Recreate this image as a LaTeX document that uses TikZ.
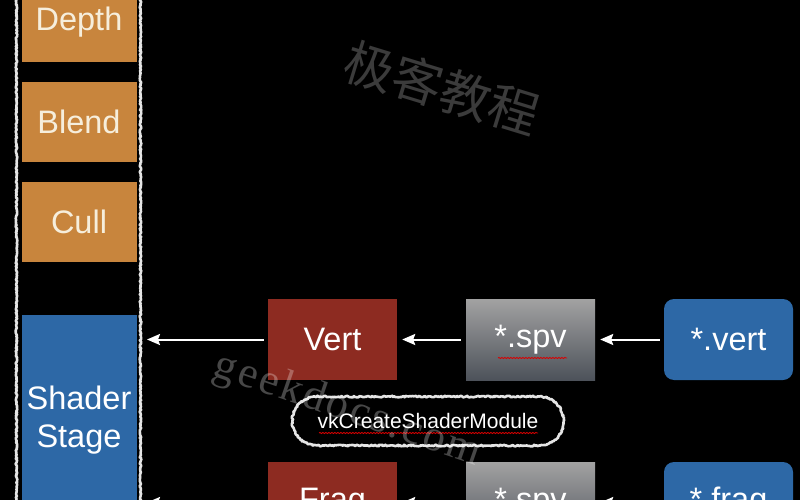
\documentclass[tikz,border=0pt]{standalone}
\usepackage{fontspec}
\setmainfont{Liberation Sans}
\newfontfamily\cjkfont{Noto Sans CJK SC}
\newfontfamily\wmserif[LetterSpace=6]{Liberation Serif}
\usetikzlibrary{arrows.meta,decorations.pathmorphing,shadings,shapes.misc}
\definecolor{orng}{HTML}{C8853D}
\definecolor{blu}{HTML}{2D68A6}
\definecolor{rd}{HTML}{8D2B21}
\definecolor{gtop}{HTML}{A2A2A2}
\definecolor{gbot}{HTML}{4D525A}
\definecolor{cream}{HTML}{F6EEDC}
\tikzset{
  bigfont/.style={font=\fontsize{32.5}{38}\selectfont},
  stagebox/.style={fill=orng, text=cream, minimum width=115pt, minimum height=80pt, inner sep=0pt, bigfont},
  shaderbox/.style={fill=blu, text=white, minimum width=115pt, minimum height=210pt, inner sep=0pt, align=center, bigfont},
  modbox/.style={fill=rd, text=white, minimum width=129pt, minimum height=81pt, inner sep=0pt, bigfont},
  spvbox/.style={top color=gtop, bottom color=gbot, text=white, minimum width=129pt, minimum height=81pt, inner sep=0pt, bigfont},
  srcbox/.style={fill=blu, text=white, rounded corners=10pt, minimum width=129pt, minimum height=81pt, inner sep=0pt, bigfont},
  rough/.style={draw=white!80!gray, line width=2.6pt, line join=round, decorate, decoration={random steps, segment length=1.2pt, amplitude=0.8pt}},
  flow/.style={draw=white, line width=2pt, -{Stealth[length=13pt,width=11pt,inset=2pt]}},
  squig/.style={draw=red!85!black, line width=0.8pt, decorate, decoration={snake, segment length=3pt, amplitude=0.6pt}},
}
\begin{document}
\begin{tikzpicture}[x=1pt,y=-1pt]
\useasboundingbox (0,0) rectangle (800,500);
\clip (0,0) rectangle (800,500);
\fill[black] (0,0) rectangle (800,500);
% column frame
\draw[rough] (16.5,-10) rectangle (140.5,510);
% stages
\node[stagebox] (depth) at (79,22) {Depth};
\node[stagebox] (blend) at (79,122) {Blend};
\node[stagebox] (cull) at (79,221.5) {Cull};
\node[shaderbox] (shader) at (79,420) {Shader\\Stage};
% vertex row
\node[modbox] (vert) at (332.5,339.5) {Vert};
\node[spvbox] (spv1) at (530.5,339.5) {*.spv};
\node[srcbox] (vsrc) at (728.5,339.5) {*.vert};
% fragment row
\node[modbox] (frag) at (332.5,502.5) {Frag};
\node[spvbox] (spv2) at (530.5,502.5) {*.spv};
\node[srcbox] (fsrc) at (728.5,502.5) {*.frag};
% arrows
\draw[flow] ([xshift=-4pt]vsrc.west) -- ([xshift=5pt]spv1.east);
\draw[flow] ([xshift=-5pt]spv1.west) -- ([xshift=5pt]vert.east);
\draw[flow] ([xshift=-4pt]vert.west) -- (147,339.5) coordinate (sin1);
\draw[flow] ([xshift=-4pt]fsrc.west) -- ([xshift=5pt]spv2.east);
\draw[flow] ([xshift=-5pt]spv2.west) -- ([xshift=5pt]frag.east);
\draw[flow] ([xshift=-4pt]frag.west) -- (147,502.5) coordinate (sin2);
% vkCreateShaderModule
\node[rounded rectangle, rough, minimum width=278pt, minimum height=49pt, text=white, font=\fontsize{21}{24}\selectfont] (vk) at (428,421) {vkCreateShaderModule};
\draw[squig] (319,433) -- (538,433);
\draw[squig] (498,358) -- (567,358);
% watermarks
\node[text=white!23!black, rotate=-17, font=\cjkfont\fontsize{50}{50}\selectfont] (wm1) at (442,88) {极客教程};
\node[text=white, opacity=0.28, rotate=-19, font=\wmserif\fontsize{44}{44}\selectfont, anchor=west] (wm2) at (212,364) {geekdocs.com};
\end{tikzpicture}
\end{document}
